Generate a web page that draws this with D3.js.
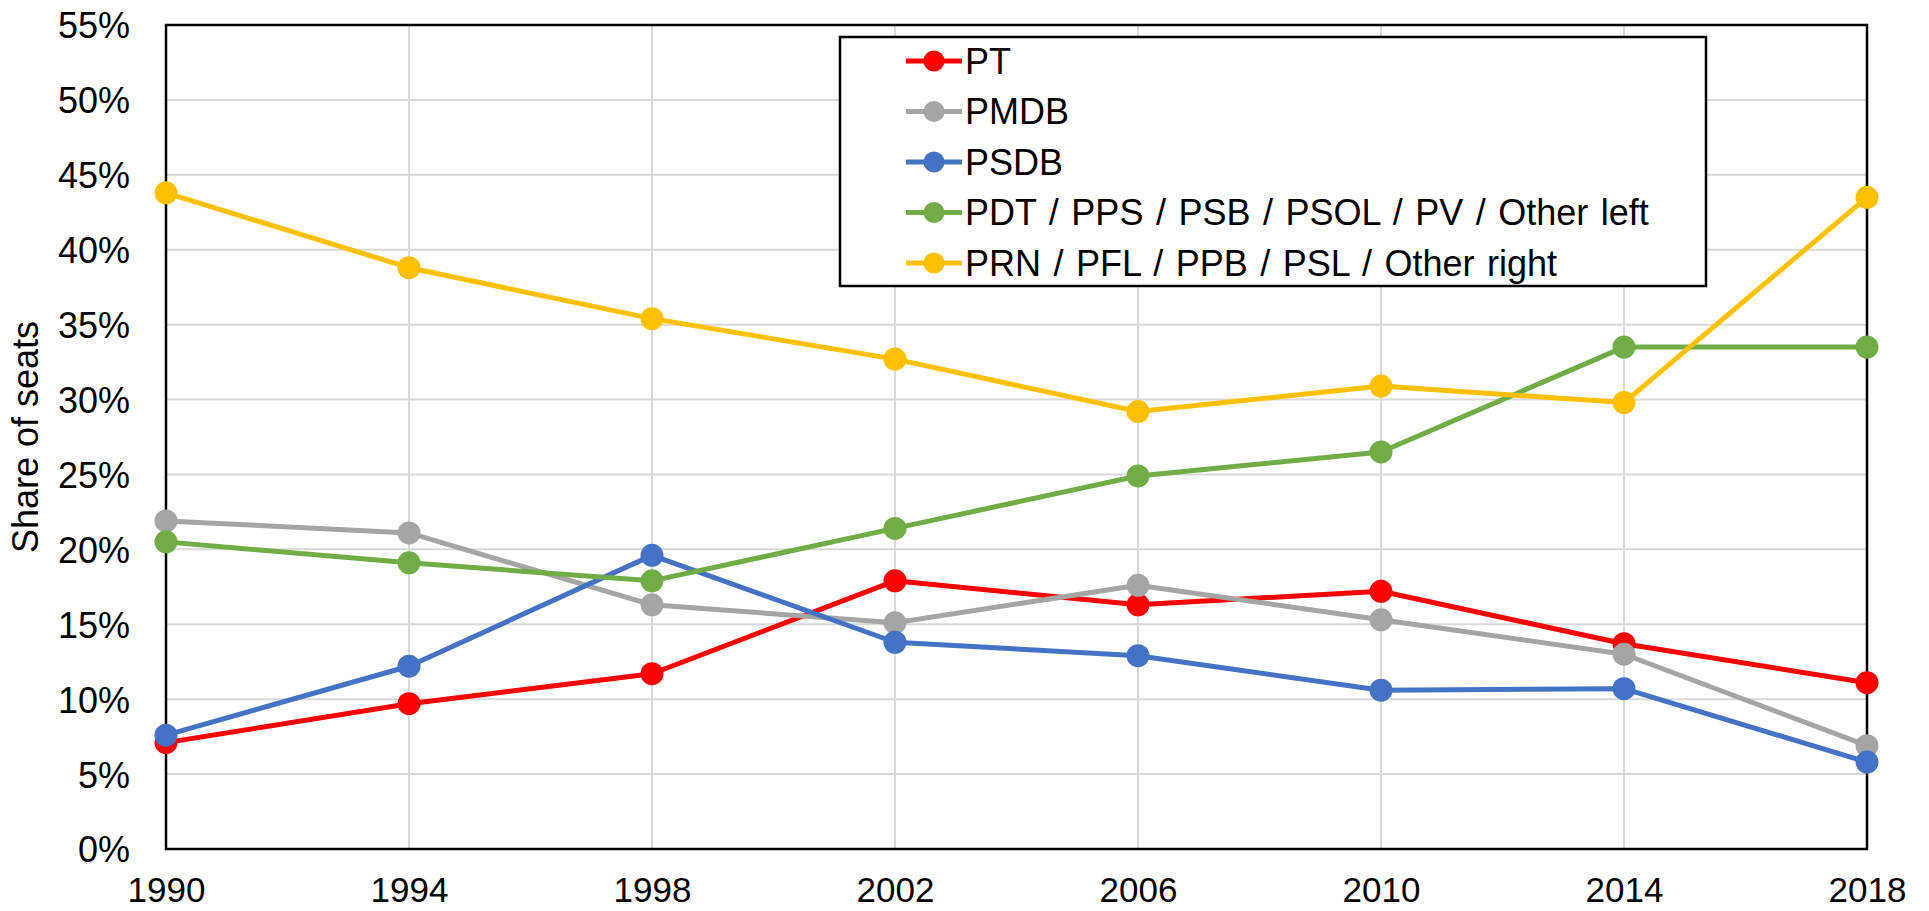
<!DOCTYPE html>
<html>
<head>
<meta charset="utf-8">
<script src="https://cdn.jsdelivr.net/npm/d3@7"></script>
<style>
  body { margin: 0; background: #fff; }
  svg { display: block; font-family: "Liberation Sans", Arial, sans-serif; }
</style>
</head>
<body>
<svg id="chart"></svg>
<script>
// chart data
var years = [1990, 1994, 1998, 2002, 2006, 2010, 2014, 2018];
var seriesNames = ["PT", "PMDB", "PSDB", "PDT / PPS / PSB / PSOL / PV / Other left", "PRN / PFL / PPB / PSL / Other right"];
var seriesColors = ["#ff0000", "#a5a5a5", "#4472c4", "#70ad47", "#ffc000"];
var ptValues = [7.1, 9.7, 11.7, 17.9, 16.3, 17.2, 13.7, 11.1];
var pmdbValues = [21.9, 21.1, 16.3, 15.1, 17.6, 15.3, 13.0, 6.9];
var psdbValues = [7.6, 12.2, 19.6, 13.8, 12.9, 10.6, 10.7, 5.8];
var leftValues = [20.5, 19.1, 17.9, 21.4, 24.9, 26.5, 33.5, 33.5];
var rightValues = [43.8, 38.8, 35.4, 32.7, 29.2, 30.9, 29.8, 43.5];
var yTicks = [0, 5, 10, 15, 20, 25, 30, 35, 40, 45, 50, 55];

var allValues = [ptValues, pmdbValues, psdbValues, leftValues, rightValues];

var W = 1929, H = 911;
var margin = {left: 166, right: 62, top: 25, bottom: 62};
var svg = d3.select('#chart').attr('width', W).attr('height', H);

svg.append('rect').attr('width', W).attr('height', H).style('fill', 'white');

var x = d3.scaleLinear().domain([1990, 2018]).range([margin.left, W - margin.right]);
var y = d3.scaleLinear().domain([0, 55]).range([H - margin.bottom, margin.top]);

// gridlines
var grid = svg.append('g').attr('class', 'grid');
grid.selectAll('line.h').data(yTicks).enter().append('line')
    .attr('x1', x(1990)).attr('x2', x(2018))
    .attr('y1', d => y(d)).attr('y2', d => y(d))
    .style('stroke', '#d9d9d9').style('stroke-width', 2);
grid.selectAll('line.v').data(years).enter().append('line')
    .attr('y1', y(0)).attr('y2', y(55))
    .attr('x1', d => x(d)).attr('x2', d => x(d))
    .style('stroke', '#d9d9d9').style('stroke-width', 2);

// axes (labels only)
var yAxis = svg.append('g')
    .attr('transform', `translate(${margin.left - 33}, 0)`)
    .call(d3.axisLeft(y).tickValues(yTicks).tickSize(0).tickFormat(d => d + '%'));
yAxis.select('.domain').remove();
yAxis.selectAll('text').attr('font-size', 36).attr('fill', '#000').attr('font-family', null).attr('dy', '0.36em');

var xAxis = svg.append('g')
    .attr('transform', `translate(0, ${y(0) + 25})`)
    .call(d3.axisBottom(x).tickValues(years).tickSize(0).tickFormat(d3.format('d')));
xAxis.select('.domain').remove();
xAxis.selectAll('text').attr('font-size', 35).attr('fill', '#000').attr('font-family', null).attr('dy', '0.71em');

// plot frame
svg.append('rect')
    .attr('x', x(1990)).attr('y', y(55))
    .attr('width', x(2018) - x(1990)).attr('height', y(0) - y(55))
    .style('fill', 'none').style('stroke', '#000').style('stroke-width', 2.5);

svg.append('text')
    .attr('transform', `translate(38, ${(y(0) + y(55)) / 2}) rotate(-90)`)
    .attr('text-anchor', 'middle')
    .attr('font-size', 36)
    .text('Share of seats');

// series
var line = d3.line().x((d, i) => x(years[i])).y(d => y(d));
allValues.forEach(function(vals, s) {
    var g = svg.append('g');
    g.append('path').datum(vals)
        .attr('d', line)
        .style('fill', 'none')
        .style('stroke', seriesColors[s])
        .style('stroke-width', 5)
        .style('stroke-linejoin', 'round');
    g.selectAll('circle').data(vals).enter().append('circle')
        .attr('cx', (d, i) => x(years[i]))
        .attr('cy', d => y(d))
        .attr('r', 11.5)
        .style('fill', seriesColors[s]);
});

// legend
var legend = svg.append('g');
legend.append('rect')
    .attr('x', 840).attr('y', 37).attr('width', 866).attr('height', 249)
    .style('fill', 'white').style('stroke', '#000').style('stroke-width', 2.5);
var items = legend.selectAll('g.item').data(seriesNames).enter().append('g')
    .attr('transform', (d, i) => `translate(906, ${61 + i * 50.5})`);
items.append('line')
    .attr('x1', 0).attr('x2', 56).attr('y1', 0).attr('y2', 0)
    .style('stroke', (d, i) => seriesColors[i]).style('stroke-width', 5);
items.append('circle')
    .attr('cx', 28).attr('cy', 0).attr('r', 10.5)
    .style('fill', (d, i) => seriesColors[i]);
items.append('text')
    .attr('x', 59).attr('y', 0).attr('dy', '0.36em')
    .attr('font-size', 36)
    .attr('word-spacing', 2.5)
    .text(d => d);
</script>
</body>
</html>
